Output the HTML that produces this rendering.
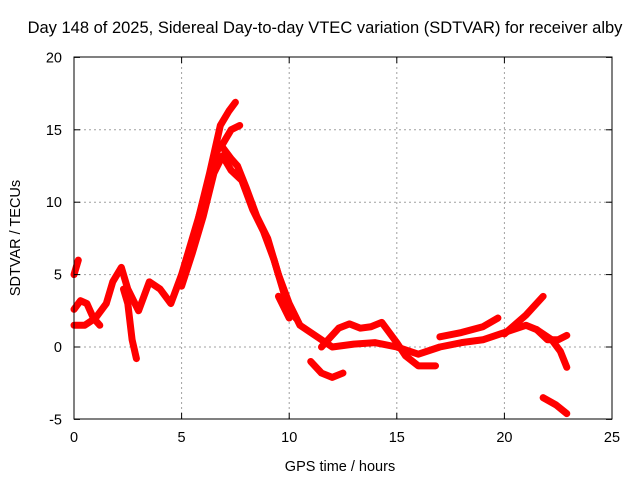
<!DOCTYPE html>
<html><head><meta charset="utf-8"><style>
body{margin:0;background:#fff;}
svg{display:block;font-family:"Liberation Sans",sans-serif;}
</style></head><body>
<svg id="chart" width="640" height="480">
<rect width="640" height="480" fill="#fff"/>
<text x="325" y="33" text-anchor="middle" font-size="16.5">Day 148 of 2025, Sidereal Day-to-day VTEC variation (SDTVAR) for receiver alby</text>
<g id="grid"></g>
<g id="series"></g>
<rect x="74" y="57" width="538" height="362" fill="none" stroke="#000"/>
<g id="ticks"></g>
<text x="340" y="471" text-anchor="middle" font-size="14.5">GPS time / hours</text>
<text transform="translate(20,238) rotate(-90)" text-anchor="middle" font-size="14.5">SDTVAR / TECUs</text>
</svg>
<script>
const xTicks=[0,5,10,15,20,25];
const yTicks=[-5,0,5,10,15,20];
const mainTrack=[[0,1.5],[0.5,1.5],[1,2],[1.5,3],[1.8,4.5],[2.2,5.5],[2.5,4],[3,2.5],[3.5,4.5],[4,4],[4.5,3],[5,5],[5.5,7.5],[6,10],[6.5,13],[6.8,14],[7.3,13],[7.6,12.5],[8,11],[8.5,9],[9,7.5],[9.5,5],[10,3],[10.5,1.5],[11,1],[12,0],[13,0.2],[14,0.3],[15,0],[16,-0.5],[17,0],[18,0.3],[19,0.5],[20,1],[21,1.5],[21.5,1.2],[22,0.5],[22.5,0.5],[22.9,0.8]];
const parallelTrack=[[5,4.2],[5.5,6.5],[6,9],[6.5,12],[6.9,13.2],[7.3,12.2],[7.8,11.5],[8.3,9.5],[8.8,8],[9.3,6],[9.8,3.5],[10.3,2]];
const upperTrack=[[5.8,9],[6.3,12],[6.8,15.3],[7.2,16.3],[7.5,16.9]];
const branchTrack=[[6.9,14],[7.3,15],[7.7,15.3]];
const secondTrack=[[0,2.6],[0.3,3.2],[0.6,3],[0.9,2],[1.2,1.5]];
const dropTrack=[[2.3,4],[2.5,3],[2.7,0.5],[2.9,-0.8]];
const highStart=[[0,5],[0.2,6]];
const sideTrack=[[9.5,3.5],[10,2]];
const lowTrack1=[[11,-1],[11.5,-1.8],[12,-2.1],[12.5,-1.8]];
const loopTrack=[[11.5,0],[12.3,1.3],[12.8,1.6],[13.3,1.3],[13.8,1.4],[14.3,1.7],[14.6,1.1],[15,0.3],[15.4,-0.6],[16,-1.3],[16.8,-1.3]];
const riseTrack=[[17,0.7],[18,1],[19,1.4],[19.7,2]];
const rightTrack=[[20,0.9],[21,2.2],[21.8,3.5]];
const tailTrack=[[21.5,1.2],[22.2,0.5],[22.6,-0.3],[22.9,-1.4]];
const lowTrack2=[[21.8,-3.5],[22.4,-4],[22.9,-4.6]];
const tracks=[mainTrack,parallelTrack,upperTrack,branchTrack,secondTrack,dropTrack,highStart,sideTrack,lowTrack1,loopTrack,riseTrack,rightTrack,tailTrack,lowTrack2];
const X=h=>74+h*538/25, Y=v=>347-v*14.48;
const NS="http://www.w3.org/2000/svg";
const grid=document.getElementById('grid'), tk=document.getElementById('ticks'), ser=document.getElementById('series');
function mk(tag,attrs,parent){const e=document.createElementNS(NS,tag);for(const k in attrs)e.setAttribute(k,attrs[k]);parent.appendChild(e);return e;}
xTicks.forEach(t=>{const x=X(t);
 if(t>0&&t<25){const l=mk('line',{x1:x,x2:x,y1:57,y2:419,stroke:'#a0a0a0','stroke-dasharray':'2,3'},grid);
 
 }
 mk('line',{x1:x,x2:x,y1:419,y2:413,stroke:'#000'},tk);
 mk('line',{x1:x,x2:x,y1:57,y2:63,stroke:'#000'},tk);
 const tx=mk('text',{x:x,y:442,'text-anchor':'middle','font-size':14.5},tk);tx.textContent=t;
 
 });
yTicks.forEach(t=>{const y=Y(t);
 if(t>-5&&t<20){const l=mk('line',{x1:74,x2:612,y1:y,y2:y,stroke:'#a0a0a0','stroke-dasharray':'2,3'},grid);
 
 }
 mk('line',{x1:74,x2:80,y1:y,y2:y,stroke:'#000'},tk);
 mk('line',{x1:606,x2:612,y1:y,y2:y,stroke:'#000'},tk);
 const tx=mk('text',{x:62,y:y+5,'text-anchor':'end','font-size':14.5},tk);tx.textContent=t;
 
 });
tracks.forEach(tr=>{const p=mk('polyline',{points:tr.map(d=>X(d[0])+','+Y(d[1])).join(' '),fill:'none',stroke:'#ff0000','stroke-width':7,'stroke-linejoin':'round','stroke-linecap':'round'},ser);
 
 });
</script>
</body></html>
